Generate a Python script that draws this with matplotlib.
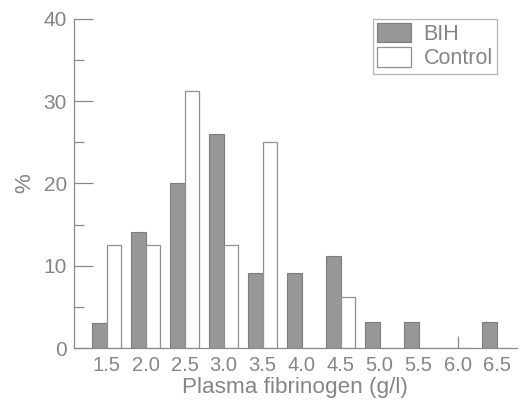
import numpy as np
import matplotlib
matplotlib.use("Agg")
import matplotlib.pyplot as plt

# fibrinogen classes and % of subjects in each
classes = ["1.5", "2.0", "2.5", "3.0", "3.5", "4.0", "4.5", "5.0", "5.5", "6.0", "6.5"]
bih = [3.1, 14.1, 20.0, 26.0, 9.1, 9.1, 11.2, 3.2, 3.2, 0.0, 3.2]
control = [12.5, 12.5, 31.25, 12.5, 25.0, 0.0, 6.25, 0.0, 0.0, 0.0, 0.0]

GREY = "#8a8a8a"
TXT = "#858585"
plt.rcParams["font.family"] = ["Liberation Sans", "DejaVu Sans"]

fig = plt.figure(figsize=(5.28, 4.01), dpi=100)
ax = fig.add_axes([0.140, 0.132, 0.839, 0.821])

x = np.arange(len(classes))
w = 0.37
ax.bar(x - w/2, bih, w, color="#979797", edgecolor="#7c7c7c", lw=0.8, label="BIH")
ax.bar(x + w/2, control, w, color="white", edgecolor="#909090", lw=0.9, label="Control")

ax.set_xlim(-0.84, 10.52)
ax.set_ylim(0, 40)
ax.set_xticks(x)
ax.set_xticklabels(classes)
ax.set_yticks([0, 10, 20, 30, 40])
ax.set_yticks([5, 15, 25, 35], minor=True)
ax.xaxis.remove_overlapping_locs = False
ax.set_xticks([9], minor=True)  # stray mark at 6.0
ax.tick_params(axis="x", which="major", length=0, pad=6, labelsize=14.5, labelcolor=TXT)
ax.tick_params(axis="x", which="minor", direction="in", length=9, color=GREY, width=0.9)
ax.tick_params(axis="y", which="major", direction="in", length=14, color=GREY, width=0.9,
               pad=5, labelsize=15, labelcolor=TXT)
ax.tick_params(axis="y", which="minor", direction="in", length=7.5, color=GREY, width=0.9)

for s in ("top", "right"):
    ax.spines[s].set_visible(False)
for s in ("left", "bottom"):
    ax.spines[s].set_color(GREY)
    ax.spines[s].set_linewidth(0.9)

ax.set_xlabel("Plasma fibrinogen (g/l)", fontsize=16.2, color=TXT, labelpad=1)
ax.set_ylabel("%", fontsize=16, color=TXT, labelpad=6)

leg = ax.legend(loc="upper right", bbox_to_anchor=(0.955, 1.0), fontsize=15.5, frameon=True,
                fancybox=False, edgecolor="#a0a0a0", handlelength=1.55, handleheight=1.0,
                handletextpad=0.6, borderpad=0.2, labelspacing=0.1, borderaxespad=0.0)
leg.get_frame().set_linewidth(0.9)
for t in leg.get_texts():
    t.set_color(TXT)

fig.savefig("out.png", dpi=100)
